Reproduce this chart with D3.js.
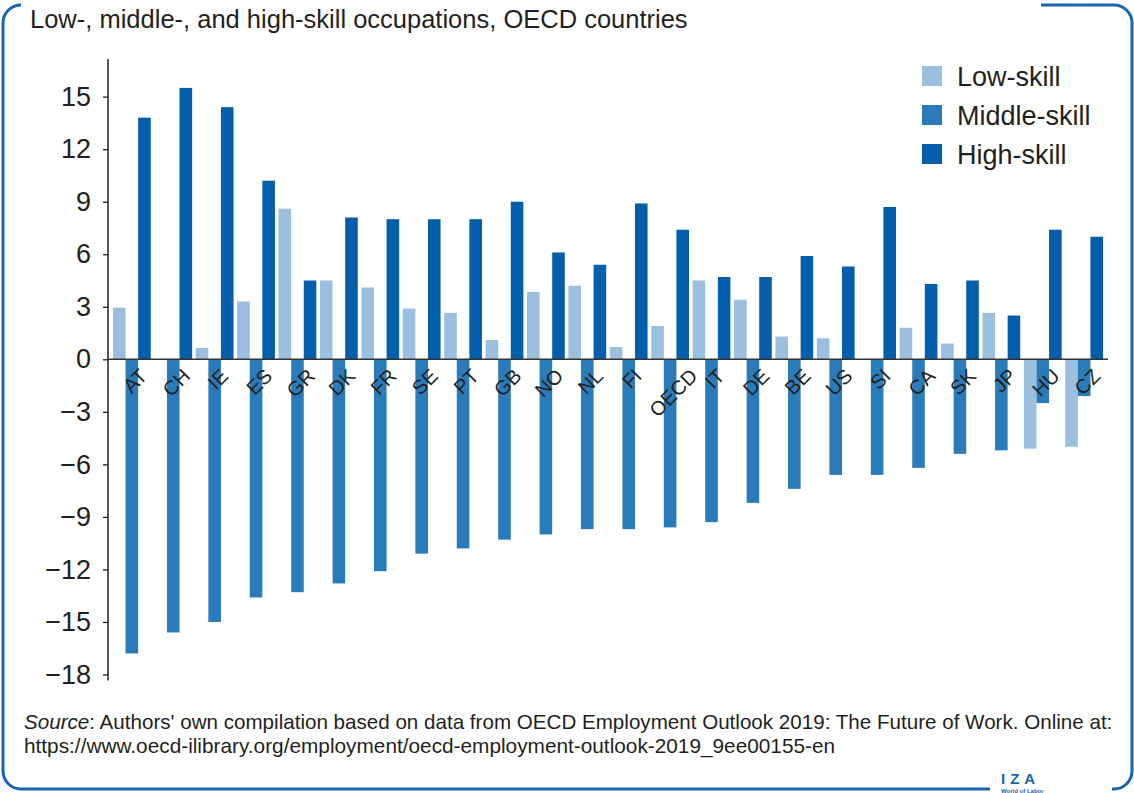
<!DOCTYPE html>
<html>
<head>
<meta charset="utf-8">
<script src="https://cdn.jsdelivr.net/npm/d3@7"></script>
<style>
  body { margin: 0; background: #fff; }
  text { font-family: "Liberation Sans", Arial, sans-serif; fill: #231f20; }
</style>
</head>
<body>
<div class="chart"></div>
<script>
// data (percentage point change)
const countries = ["AT","CH","IE","ES","GR","DK","FR","SE","PT","GB","NO","NL","FI","OECD","IT","DE","BE","US","SI","CA","SK","JP","HU","CZ"];
const lowSkill = [2.95, 0, 0.65, 3.3, 8.6, 4.5, 4.1, 2.9, 2.65, 1.1, 3.85, 4.2, 0.7, 1.9, 4.5, 3.4, 1.3, 1.2, 0, 1.8, 0.9, 2.65, -5.1, -5.0];
const middleSkill = [-16.8, -15.6, -15.0, -13.6, -13.3, -12.8, -12.1, -11.1, -10.8, -10.3, -10.0, -9.7, -9.7, -9.6, -9.3, -8.2, -7.4, -6.6, -6.6, -6.2, -5.4, -5.2, -2.5, -2.1];
const highSkill = [13.8, 15.5, 14.4, 10.2, 4.5, 8.1, 8.0, 8.0, 8.0, 9.0, 6.1, 5.4, 8.9, 7.4, 4.7, 4.7, 5.9, 5.3, 8.7, 4.3, 4.5, 2.5, 7.4, 7.0];
const seriesNames = ["Low-skill", "Middle-skill", "High-skill"];
const yTicks = [-18, -15, -12, -9, -6, -3, 0, 3, 6, 9, 12, 15];

const width = 1134, height = 793;
const colors = ["#9bbfdf", "#2a7bba", "#035fac"];
const frameColor = "#1565b0";

const svg = d3.select(".chart").append("svg")
    .attr("width", width)
    .attr("height", height);

// frame with gaps for the heading and the logo
svg.append("path")
    .attr("d", "M21,5 A18,18 0 0 0 3,23 L3,771 A18,18 0 0 0 21,789 L990,789 " +
               "M1112,789 L1114,789 A18,18 0 0 0 1132,771 L1132,23 A18,18 0 0 0 1114,5 L1041,5")
    .attr("fill", "none")
    .attr("stroke", frameColor)
    .attr("stroke-width", 3);

svg.append("text")
    .attr("x", 30)
    .attr("y", 28)
    .attr("font-size", 25.5)
    .text("Low-, middle-, and high-skill occupations, OECD countries");

// scales
const x0 = d3.scaleBand()
    .domain(countries)
    .range([108, 1108])
    .paddingInner(0.088)
    .paddingOuter(0.12);

const x1 = d3.scaleBand()
    .domain(seriesNames)
    .range([0, x0.bandwidth()]);

const yScale = d3.scaleLinear()
    .domain([-18, 15])
    .range([359.3 + 18 * 17.51, 359.3 - 15 * 17.51]);

const colorScale = d3.scaleOrdinal()
    .domain(seriesNames)
    .range(colors);

// y axis
const yAxis = d3.axisLeft(yScale)
    .tickValues(yTicks)
    .tickSize(5)
    .tickPadding(12)
    .tickFormat(d => d < 0 ? "\u2212" + Math.abs(d) : d);

const yG = svg.append("g")
    .attr("class", "axis y-axis")
    .attr("transform", "translate(108,0)")
    .call(yAxis);
yG.select(".domain").remove();
yG.selectAll("line").attr("stroke", "#231f20").attr("stroke-width", 1.3);
yG.selectAll("text")
    .attr("font-size", 27)
    .attr("font-family", "Liberation Sans, Arial, sans-serif")
    .attr("fill", "#231f20");

svg.append("line")
    .attr("x1", 108).attr("x2", 108)
    .attr("y1", yScale(17.15)).attr("y2", yScale(-18.35))
    .attr("stroke", "#231f20")
    .attr("stroke-width", 1.5);

// bars
const rows = countries.map((c, i) => ({
    country: c,
    values: [lowSkill[i], middleSkill[i], highSkill[i]].map((v, j) => ({key: seriesNames[j], value: v}))
}));

const groups = svg.append("g")
    .selectAll("g")
    .data(rows)
    .join("g")
    .attr("transform", d => `translate(${x0(d.country)},0)`);

groups.selectAll("rect")
    .data(d => d.values)
    .join("rect")
    .attr("x", d => x1(d.key))
    .attr("width", x1.bandwidth())
    .attr("y", d => yScale(Math.max(0, d.value)))
    .attr("height", d => Math.abs(yScale(d.value) - yScale(0)))
    .attr("fill", d => colorScale(d.key));

// zero line
svg.append("line")
    .attr("x1", 108).attr("x2", 1108)
    .attr("y1", yScale(0)).attr("y2", yScale(0))
    .attr("stroke", "#333")
    .attr("stroke-width", 1.5);

// rotated country labels, box centred under the group
const labelSize = 20;
const cap = 0.716 * labelSize;
svg.append("g")
    .selectAll("text")
    .data(countries)
    .join("text")
    .attr("font-size", labelSize)
    .attr("text-anchor", "end")
    .text(d => d)
    .attr("transform", function(d) {
        const w = this.getComputedTextLength();
        const cx = x0(d) + x0.bandwidth() / 2 + 3;
        const ex = cx + 0.7071 * (w + cap) / 2;
        return `translate(${ex},${yScale(0) + 18}) rotate(-45)`;
    });

// legend
const legend = svg.append("g")
    .selectAll("g")
    .data(seriesNames)
    .join("g")
    .attr("transform", (d, i) => `translate(922,${76 + i * 39})`);

legend.append("rect")
    .attr("x", 0).attr("y", -10)
    .attr("width", 20).attr("height", 20)
    .attr("fill", d => colorScale(d));

legend.append("text")
    .attr("x", 35)
    .attr("y", 10)
    .attr("font-size", 27)
    .text(d => d);

// source
const src = svg.append("text")
    .attr("x", 24)
    .attr("y", 729)
    .attr("font-size", 20.6);
src.append("tspan").attr("font-style", "italic").text("Source");
src.append("tspan").text(": Authors' own compilation based on data from OECD Employment Outlook 2019: The Future of Work. Online at:");

svg.append("text")
    .attr("x", 24)
    .attr("y", 753)
    .attr("font-size", 20.8)
    .text("https://www.oecd-ilibrary.org/employment/oecd-employment-outlook-2019_9ee00155-en");

// logo
svg.append("text")
    .attr("x", 1001)
    .attr("y", 784)
    .attr("font-size", 15)
    .attr("font-weight", "bold")
    .attr("letter-spacing", 5)
    .style("fill", frameColor)
    .text("IZA");

svg.append("text")
    .attr("x", 1001)
    .attr("y", 792.5)
    .attr("font-size", 6)
    .attr("font-weight", "bold")
    .style("fill", frameColor)
    .text("World of Labor");
</script>
</body>
</html>
